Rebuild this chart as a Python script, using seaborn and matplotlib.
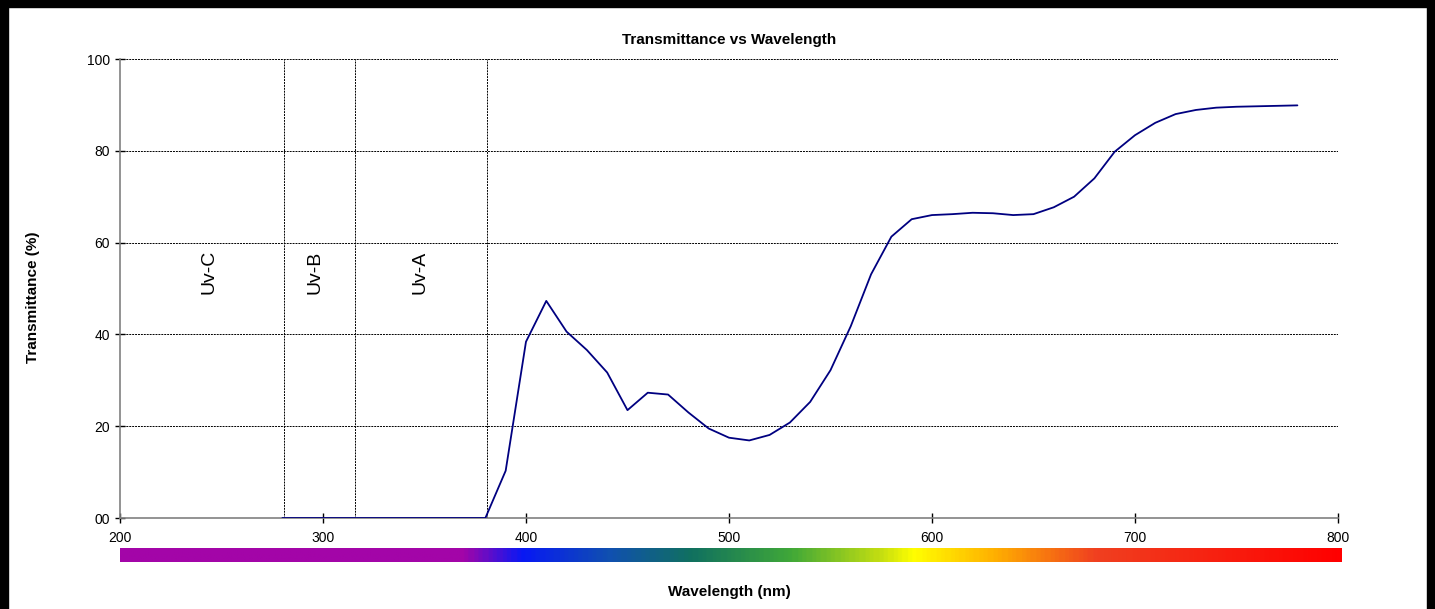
import matplotlib
matplotlib.use("Agg")
import matplotlib.pyplot as plt
import seaborn as sns
import numpy as np
import pandas as pd
from matplotlib.colors import LinearSegmentedColormap
from matplotlib.patches import Rectangle
from matplotlib.ticker import FuncFormatter

# data
wavelength = [280, 290, 300, 310, 320, 330, 340, 350, 360, 370, 380,
              390, 400, 410, 420, 430, 440, 450, 460, 470, 480,
              490, 500, 510, 520, 530, 540, 550, 560, 570, 580,
              590, 600, 610, 620, 630, 640, 650, 660, 670, 680,
              690, 700, 710, 720, 730, 740, 750, 760, 770, 780]
transmittance = [0, 0, 0, 0, 0, 0, 0, 0, 0, 0, 0,
                 10.3, 38.4, 47.3, 40.6, 36.6, 31.7, 23.5, 27.3, 26.9, 23.0,
                 19.5, 17.5, 16.9, 18.1, 20.8, 25.3, 32.2, 41.8, 53.1, 61.3,
                 65.1, 66.0, 66.2, 66.5, 66.4, 66.0, 66.2, 67.7, 70.0, 74.0,
                 79.8, 83.4, 86.1, 88.0, 88.9, 89.4, 89.6, 89.7, 89.8, 89.9]

uv_bounds = [281, 316, 381]
uv_labels = ["Uv-C", "Uv-B", "Uv-A"]
uv_label_x = [244, 296, 348]

x_ticks = [200, 300, 400, 500, 600, 700, 800]
y_ticks = [0, 20, 40, 60, 80, 100]

# spectrum bar colour stops (wavelength, colour)
spectrum_stops = [(200, "#A305A8"), (368, "#A305A8"), (397, "#0818F5"),
                  (440, "#1050B0"), (480, "#107060"), (530, "#40A838"),
                  (575, "#C8E010"), (590, "#FFFF00"), (630, "#FFB000"),
                  (680, "#F04020"), (800, "#FF0000")]

sns.set_style("white")
plt.rcParams["font.family"] = ["Liberation Sans", "DejaVu Sans"]
plt.rcParams.update({"text.color": "black", "axes.labelcolor": "black",
                     "xtick.color": "black", "ytick.color": "black"})

fig = plt.figure(figsize=(14.35, 6.09), dpi=100)
ax = fig.add_axes([0.0836, 0.1494, 0.8488, 0.7537])

df = pd.DataFrame({"wavelength": wavelength, "transmittance": transmittance})

for yv in y_ticks[1:]:
    ax.axhline(yv, color="black", linestyle=(0, (2, 1)), linewidth=0.7, zorder=1)
for xv in uv_bounds:
    ax.axvline(xv, color="black", linestyle=(0, (2, 1)), linewidth=0.7, zorder=1)

sns.lineplot(data=df, x="wavelength", y="transmittance", ax=ax,
             color="#000080", linewidth=1.3, zorder=3)

for lab, xv in zip(uv_labels, uv_label_x):
    ax.text(xv, 53.6, lab, rotation=90, ha="center", va="center", fontsize=14)

ax.set_xlim(200, 800)
ax.set_ylim(0, 100)
ax.set_xticks(x_ticks)
ax.set_yticks(y_ticks)
ax.yaxis.set_major_formatter(FuncFormatter(lambda v, p: f"{int(v):02d}"))
ax.tick_params(axis="both", direction="inout", length=7, width=1,
               color="black", labelsize=10, bottom=True, left=True)
ax.tick_params(axis="x", pad=6)
for s in ["top", "right"]:
    ax.spines[s].set_visible(False)
for s in ["left", "bottom"]:
    ax.spines[s].set_color("#808080")
    ax.spines[s].set_linewidth(1.2)
ax.set_xlabel("")
ax.set_ylabel("Transmittance (%)", fontsize=11, fontweight="bold")
ax.yaxis.set_label_coords(-0.066, 0.48)
ax.set_title("Transmittance vs Wavelength", fontsize=11, fontweight="bold", pad=11)

# spectrum colour bar
cax = fig.add_axes([0.0836, 0.0772, 0.8509, 0.023])
pos = [(w - 200) / 600 for w, c in spectrum_stops]
cmap = LinearSegmentedColormap.from_list("spec", list(zip(pos, [c for w, c in spectrum_stops])))
cax.imshow(np.linspace(0, 1, 600)[None, :], aspect="auto", cmap=cmap,
           extent=[200, 800, 0, 1])
cax.set_axis_off()

fig.text(0.508, 0.028, "Wavelength (nm)", ha="center", va="center",
         fontsize=11, fontweight="bold")

# black frame around the image
for rect in [(0, 0, 8 / 1435, 1), (1427 / 1435, 0, 8 / 1435, 1),
             (0, 1 - 7 / 609, 1, 7 / 609)]:
    fig.patches.append(Rectangle(rect[:2], rect[2], rect[3], transform=fig.transFigure,
                                 color="black", zorder=10))

fig.savefig("out.png", dpi=100)
